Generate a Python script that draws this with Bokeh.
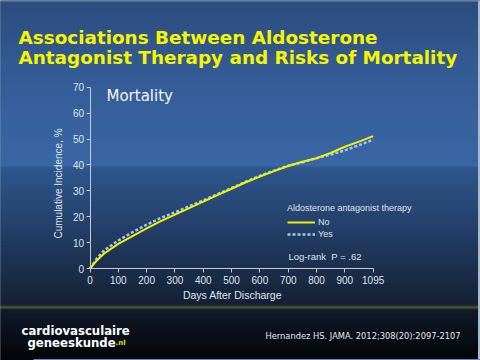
import numpy as np
from bokeh.plotting import figure
from bokeh.models import (Range1d, LinearAxis, FixedTicker, Label, Legend, LegendItem)
from bokeh.embed import file_html
from bokeh.resources import INLINE

# ---------------- data ----------------
# x positions on the axis (the last tick, at 1000, is labelled "1095")
x_pos = [0, 25, 50, 100, 150, 200, 250, 300, 350, 400, 450, 500, 550, 600,
         650, 700, 750, 800, 850, 900, 950, 1000]
no_therapy = [0, 3.2, 5.8, 9.5, 12.5, 15.5, 18.3, 20.8, 23.3, 25.8, 28.3, 30.8,
              33.3, 35.5, 37.6, 39.6, 41.2, 42.6, 44.6, 47.0, 49.0, 51.1]
yes_therapy = [0, 4.0, 7.0, 10.8, 14.0, 16.9, 19.5, 21.7, 24.0, 26.3, 28.7, 31.1,
               33.5, 35.8, 37.8, 39.7, 41.0, 42.6, 44.0, 45.6, 47.6, 49.7]
x_ticks = [0, 100, 200, 300, 400, 500, 600, 700, 800, 900, 1000]
x_tick_labels = ["0", "100", "200", "300", "400", "500", "600", "700", "800", "900", "1095"]
y_ticks = [0, 10, 20, 30, 40, 50, 60, 70]

# ---------------- geometry (slide pixels -> data) ----------------
W, H = 480, 360
X0, SX = 89.5, 0.28317     # px of x=0, px per unit
Y0, SY = 268.0, 2.59       # px of y=0, px per unit


def dx(X):
    return (X - X0) / SX


def dy(Y):
    return (Y0 - Y) / SY


p = figure(width=W, height=H, min_border=0, toolbar_location=None,
           output_backend="svg", x_axis_type=None, y_axis_type=None,
           x_range=Range1d(dx(0), dx(W)), y_range=Range1d(dy(H), dy(0)),
           outline_line_color=None, background_fill_color="#2c4b7b",
           border_fill_color="#2c4b7b")
p.xgrid.visible = False
p.ygrid.visible = False

# ---------------- slide background ----------------
stops = [(0, "#2d4d7e"), (80, "#365f99"), (166, "#3b69a7"), (167, "#30588f"),
         (230, "#243e67"), (305, "#141e30"), (306, "#3e4a2a"), (308, "#4b5830"),
         (309, "#0f1826"), (352, "#030406"), (361, "#000000")]


def hex2rgb(h):
    return np.array([int(h[i:i + 2], 16) for i in (1, 3, 5)], dtype=float)


sy = np.array([s[0] for s in stops], dtype=float)
sc = np.array([hex2rgb(s[1]) for s in stops])
rows = np.arange(0, H)
cols = []
for Y in rows:
    c = [np.interp(Y + 0.5, sy, sc[:, k]) for k in range(3)]
    cols.append("#%02x%02x%02x" % tuple(int(round(v)) for v in c))
p.quad(left=dx(-2), right=dx(W + 2), bottom=[dy(Y + 1) for Y in rows],
       top=[dy(Y) for Y in rows], fill_color=cols, line_color=cols, line_width=0.5)
# slide edges
p.quad(left=[dx(0), dx(477.5), dx(33)], right=[dx(W), dx(W), dx(W)],
       bottom=[dy(1), dy(H), dy(H)], top=[dy(0), dy(0), dy(358.5)],
       fill_color=["#7088a8", "#a9b9cc", "#5f8cc4"], line_color=None)

# ---------------- axes ----------------
axis_col = "#c4cad6"
lab_col = "#dfe4ee"
xa = LinearAxis(fixed_location=0, bounds=(0, 1000), ticker=FixedTicker(ticks=x_ticks))
xa.major_label_overrides = {t: l for t, l in zip(x_ticks, x_tick_labels)}
ya = LinearAxis(fixed_location=0, bounds=(0, 70), ticker=FixedTicker(ticks=y_ticks))
for a in (xa, ya):
    a.axis_line_color = axis_col
    a.axis_line_width = 1
    a.major_tick_line_color = axis_col
    a.major_tick_out = 4
    a.major_tick_in = 0
    a.minor_tick_line_color = None
    a.major_label_text_color = lab_col
    a.major_label_text_font = "Liberation Sans"
    a.major_label_text_font_size = "10px"
xa.major_label_standoff = 3
ya.major_label_standoff = 2
p.add_layout(xa, "below")
p.add_layout(ya, "left")

# ---------------- curves ----------------
r_yes = p.line(x_pos, yes_therapy, line_color="#9ccbeb", line_width=2.5, line_dash="3 2")
r_no = p.line(x_pos, no_therapy, line_color="#f2f200", line_width=2)

legend = Legend(items=[LegendItem(label="No", renderers=[r_no]),
                       LegendItem(label="Yes", renderers=[r_yes])],
                title="Aldosterone antagonist therapy",
                location=(287, 120), background_fill_alpha=0, border_line_color=None,
                padding=0, margin=0, spacing=0, glyph_width=28, glyph_height=12,
                label_height=12, label_standoff=3, title_standoff=3,
                label_text_font="Liberation Sans", label_text_font_size="9px",
                label_text_color=lab_col, title_text_font="Liberation Sans",
                title_text_font_size="9px", title_text_color=lab_col,
                title_text_font_style="normal")
p.add_layout(legend)


# ---------------- texts (slide coordinates -> screen) ----------------
def lab(text, X, Y, size, color, font="DejaVu Sans", style="normal",
        align="left", baseline="alphabetic", angle=0.0):
    p.add_layout(Label(x=X, y=H - Y, x_units="screen", y_units="screen",
                       text=text, text_font=font, text_font_size=size,
                       text_color=color, text_font_style=style, text_align=align,
                       text_baseline=baseline, angle=angle))


lab("Associations Between Aldosterone", 18, 36.5, "18.4px", "#f5f500", style="bold")
lab("Antagonist Therapy and Risks of Mortality", 18, 56.5, "18.4px", "#f5f500", style="bold")
lab("Mortality", 106, 95.7, "15px", "#f4f6fa")
lab("Cumulative Incidence, %", 58, 183, "10px", lab_col, font="Liberation Sans",
    align="center", baseline="middle", angle=np.pi / 2)
lab("Days After Discharge", 232, 294, "10.5px", lab_col, font="Liberation Sans",
    align="center", baseline="middle")
lab("Log-rank\u00a0\u00a0P = .62", 288, 256, "9.5px", lab_col, font="Liberation Sans",
    baseline="middle")
lab("cardiovasculaire", 21, 330.7, "11.7px", "#ffffff", style="bold")
lab("geneeskunde", 27, 342.3, "11.7px", "#ffffff", style="bold")
lab(".nl", 115, 342.3, "7px", "#e8e000", style="bold")
lab("Hernandez HS. JAMA. 2012;308(20):2097-2107", 265, 335, "8.3px", "#e6e8ee")

open("out.html", "w").write(file_html(p, INLINE))
